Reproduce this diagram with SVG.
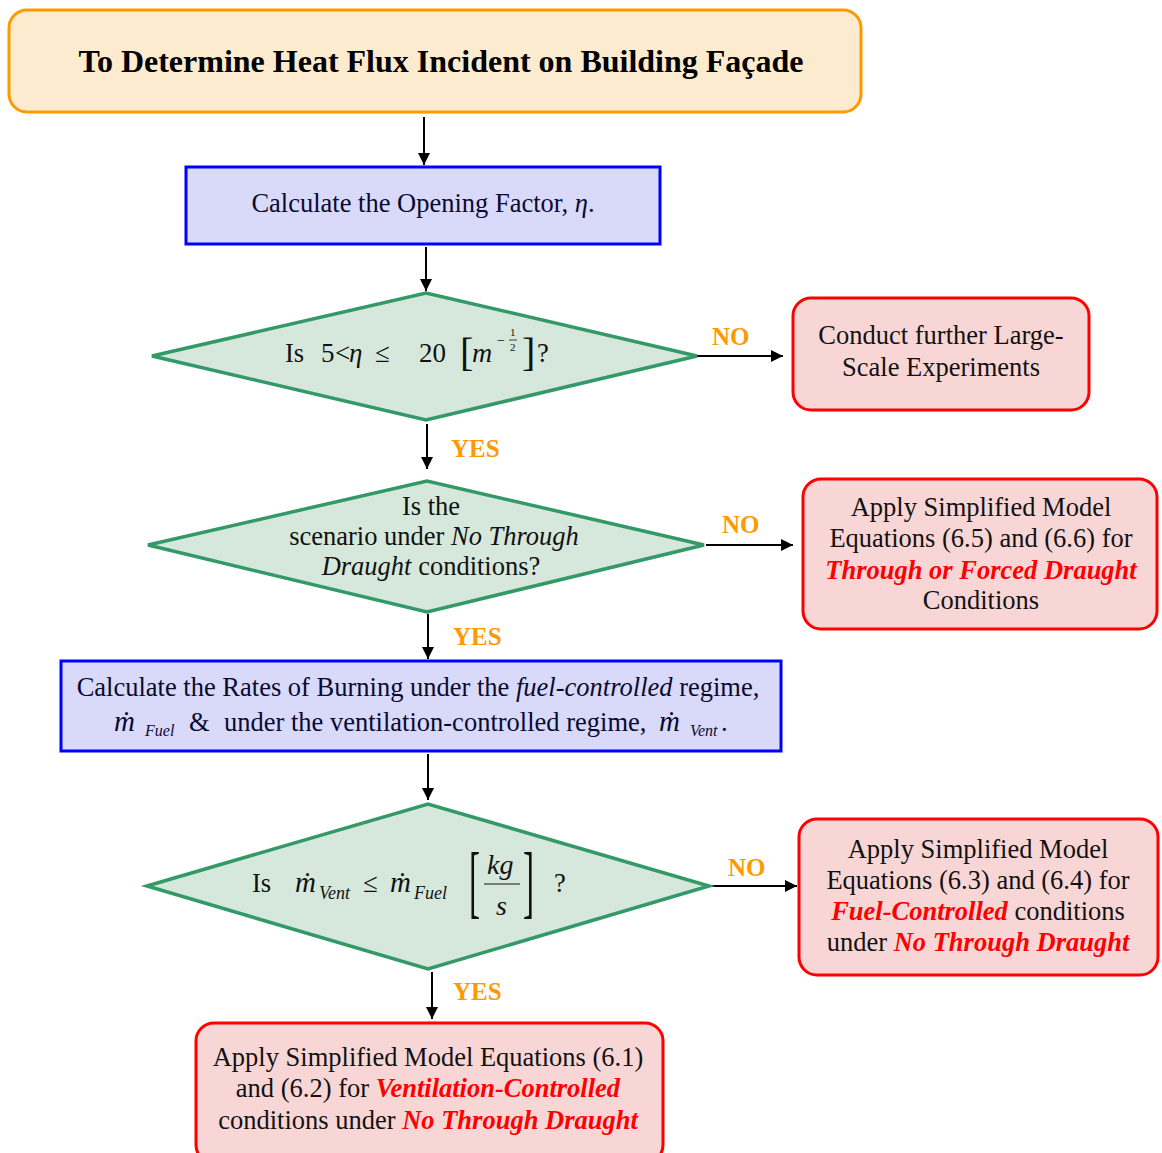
<svg xmlns="http://www.w3.org/2000/svg" width="1162" height="1153" viewBox="0 0 1162 1153">
  <defs>
    <marker id="arrow" viewBox="0 0 10 10" refX="10" refY="5" markerWidth="12" markerHeight="12" markerUnits="userSpaceOnUse" orient="auto">
      <path d="M0,0 L10,5 L0,10 z" fill="#000"/>
    </marker>
  </defs>
  <style>
    text { font-family: "Liberation Serif", "DejaVu Serif", serif; fill: #111; }
    .t { font-size: 26.5px; }
    .c { text-anchor: middle; }
    .i { font-style: italic; }
    .hl { font-style: italic; font-weight: bold; fill: #ff0000; }
    .lbl { font-size: 25px; font-weight: bold; fill: #ff9900; }
    .start { fill: #fdebd0; stroke: #ff9900; stroke-width: 3; }
    .proc { fill: #d9d9fa; stroke: #0000ff; stroke-width: 3; }
    .dec { fill: #d6e8dc; stroke: #339966; stroke-width: 3.5; }
    .end { fill: #f9d6d6; stroke: #ff0000; stroke-width: 3; }
    .conn line { stroke: #000; stroke-width: 2; marker-end: url(#arrow); }
  </style>

  <!-- connectors -->
  <g id="connectors" class="conn">
    <line x1="424" y1="117" x2="424" y2="165"/>
    <line x1="426" y1="247" x2="426" y2="291"/>
    <line x1="697" y1="356" x2="783" y2="356"/>
    <line x1="427" y1="424" x2="427" y2="469"/>
    <line x1="706" y1="545" x2="793" y2="545"/>
    <line x1="428" y1="614" x2="428" y2="659"/>
    <line x1="428" y1="754" x2="428" y2="800"/>
    <line x1="711" y1="886" x2="797" y2="886"/>
    <line x1="432" y1="972" x2="432" y2="1019"/>
  </g>

  <!-- connector labels -->
  <g id="labels">
    <text class="lbl" x="712" y="345">NO</text>
    <text class="lbl" x="451" y="457">YES</text>
    <text class="lbl" x="722" y="533">NO</text>
    <text class="lbl" x="453" y="645">YES</text>
    <text class="lbl" x="728" y="876">NO</text>
    <text class="lbl" x="453" y="1000">YES</text>
  </g>

  <!-- start -->
  <g id="start">
    <rect class="start" x="9" y="10" width="852" height="102" rx="18"/>
    <text class="c" x="441" y="72" style="font-size:32px;font-weight:bold;fill:#000">To Determine Heat Flux Incident on Building Façade</text>
  </g>

  <!-- opening factor -->
  <g id="opening-factor">
    <rect class="proc" x="186" y="167" width="474" height="77"/>
    <text class="t c" x="423" y="212" style="font-size:26.5px;fill:#0a0a30">Calculate the Opening Factor, <tspan class="i">η</tspan>.</text>
  </g>

  <!-- opening factor range check -->
  <g id="range-check">
    <polygon class="dec" points="152,356 426,293 697,356 426,420"/>
    <text class="t" x="285" y="362">Is</text>
    <text x="321" y="362" style="font-size:27px">5</text>
    <text x="335" y="362" style="font-size:27px">&lt;</text>
    <text class="i" x="349" y="362" style="font-size:27px">η</text>
    <text x="375" y="362" style="font-size:27px">≤</text>
    <text x="419" y="362" style="font-size:27px">20</text>
    <text x="460" y="366" style="font-size:40px">[</text>
    <text class="i" x="472" y="362" style="font-size:28px">m</text>
    <text x="497" y="345" style="font-size:14px">−</text>
    <text x="510" y="336" style="font-size:11px">1</text>
    <line x1="509" y1="340" x2="517" y2="340" stroke="#111" stroke-width="0.8"/>
    <text x="510" y="351" style="font-size:11px">2</text>
    <text x="522" y="366" style="font-size:40px">]</text>
    <text class="t" x="537" y="362">?</text>
  </g>

  <!-- further experiments -->
  <g id="experiments">
    <rect class="end" x="793" y="298" width="296" height="112" rx="18"/>
    <text class="t c" x="941" y="344">Conduct further Large-</text>
    <text class="t c" x="941" y="376">Scale Experiments</text>
  </g>

  <!-- draught check -->
  <g id="draught-check">
    <polygon class="dec" points="148,545 427,481 704,545 427,612"/>
    <text class="t c" x="431" y="515">Is the</text>
    <text class="t c" x="434" y="545">scenario under <tspan class="i">No Through</tspan></text>
    <text class="t c" x="431" y="575"><tspan class="i">Draught</tspan> conditions?</text>
  </g>

  <!-- through / forced draught -->
  <g id="forced-draught">
    <rect class="end" x="803" y="479" width="354" height="150" rx="18"/>
    <text class="t c" x="981" y="516">Apply Simplified Model</text>
    <text class="t c" x="981" y="547">Equations (6.5) and (6.6) for</text>
    <text class="t c hl" x="981" y="579">Through or Forced Draught</text>
    <text class="t c" x="981" y="609">Conditions</text>
  </g>

  <!-- burning rates -->
  <g id="burning-rates">
    <rect class="proc" x="61" y="661" width="720" height="90"/>
    <text class="t c" x="418" y="696" style="fill:#0a0a30">Calculate the Rates of Burning under the <tspan class="i">fuel-controlled</tspan> regime,</text>
    <text class="i" x="114" y="731" style="font-size:29px;fill:#0a0a30">ṁ</text>
    <text class="i" x="145" y="736" style="font-size:16px;fill:#0a0a30">Fuel</text>
    <text class="t" x="189" y="731" style="fill:#0a0a30">&amp;</text>
    <text class="t" x="224" y="731" style="fill:#0a0a30">under the ventilation-controlled regime,</text>
    <text class="i" x="659" y="731" style="font-size:29px;fill:#0a0a30">ṁ</text>
    <text class="i" x="690" y="736" style="font-size:16px;fill:#0a0a30">Vent</text>
    <text class="t" x="721" y="731" style="fill:#0a0a30">.</text>
  </g>

  <!-- burning rate comparison -->
  <g id="rate-check">
    <polygon class="dec" points="147,886 428,804 709,886 428,969"/>
    <text class="t" x="252" y="892">Is</text>
    <text class="i" x="295" y="892" style="font-size:29px">ṁ</text>
    <text class="i" x="319" y="899" style="font-size:18px">Vent</text>
    <text x="363" y="892" style="font-size:27px">≤</text>
    <text class="i" x="390" y="892" style="font-size:29px">ṁ</text>
    <text class="i" x="414" y="899" style="font-size:18px">Fuel</text>
    <text x="469" y="908" transform="translate(469 908) scale(0.9 2.2) translate(-469 -908)" style="font-size:37px">[</text>
    <text class="i" x="487" y="874" style="font-size:28px">kg</text>
    <line x1="484" y1="884" x2="520" y2="884" stroke="#111" stroke-width="1.2"/>
    <text class="i" x="496" y="915" style="font-size:28px">s</text>
    <text x="523" y="908" transform="translate(523 908) scale(0.9 2.2) translate(-523 -908)" style="font-size:37px">]</text>
    <text class="t" x="554" y="892">?</text>
  </g>

  <!-- fuel-controlled -->
  <g id="fuel-controlled">
    <rect class="end" x="799" y="819" width="359" height="156" rx="18"/>
    <text class="t c" x="978" y="858">Apply Simplified Model</text>
    <text class="t c" x="978" y="889">Equations (6.3) and (6.4) for</text>
    <text class="t c" x="978" y="920"><tspan class="hl">Fuel-Controlled</tspan> conditions</text>
    <text class="t c" x="978" y="951">under <tspan class="hl">No Through Draught</tspan></text>
  </g>

  <!-- ventilation-controlled -->
  <g id="ventilation-controlled">
    <rect class="end" x="196" y="1023" width="467" height="140" rx="18"/>
    <text class="t c" x="428" y="1066">Apply Simplified Model Equations (6.1)</text>
    <text class="t c" x="428" y="1097">and (6.2) for <tspan class="hl">Ventilation-Controlled</tspan></text>
    <text class="t c" x="428" y="1129">conditions under <tspan class="hl">No Through Draught</tspan></text>
  </g>
</svg>
